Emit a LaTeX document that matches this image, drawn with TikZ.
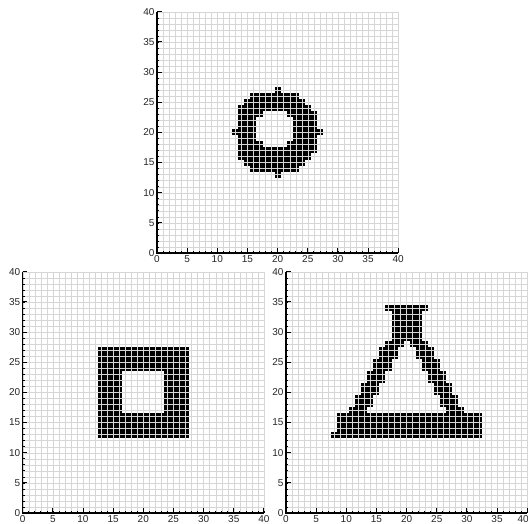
\documentclass[tikz,border=0pt]{standalone}
\usepackage{fontspec}
\setmainfont{Liberation Sans}
\begin{document}
\begin{tikzpicture}[x=1pt,y=1pt,
  gridline/.style={black!16,line width=0.3pt},
  axisline/.style={black,line width=1.4pt},
  ticklab/.style={font=\fontsize{10}{10}\selectfont,text=black!85,inner sep=0.5pt},
  cellfill/.style={fill=black}]
\useasboundingbox (0,0) rectangle (528,524);
\newcommand\cellat[2]{\fill[cellfill] ({#1-0.5},{#2-0.5}) rectangle ({#1+0.5},{#2+0.5});}
\newcommand\rowcells[3]{\foreach \cx in {#1,...,#2}{\cellat{\cx}{#3}}}
\newcommand\axesframe[1]{%
  \foreach \t in {0,...,40}{
    \draw[black,line width=0.6pt] (\t,0) -- (\t,0.35);
    \draw[black,line width=0.6pt] (0,\t) -- (0.35,\t);}
  \foreach \t in {0,5,...,35}{
    \node[ticklab,anchor=north] at (\t,-0.3) {\t};}
  \node[ticklab,anchor=north,xshift=#1] at (40,-0.3) {40};
  \foreach \t in {0,5,...,40}{
    \draw[black,line width=1pt] (\t,0) -- (\t,0.75);
    \draw[black,line width=1pt] (0,\t) -- (0.75,\t);
    \node[ticklab,anchor=east] at (-0.3,\t) {\t};}
  \draw[axisline] (0,40) -- (0,0) -- (40,0);}
% ---------- top plot: ring ----------
\begin{scope}[shift={(157,271)},x=6.03pt,y=6.03pt]
  \cellat{20}{27}\cellat{20}{13}\cellat{13}{20}\cellat{27}{20}
  \rowcells{16}{23}{26}
  \rowcells{15}{24}{25}
  \rowcells{14}{25}{24}
  \rowcells{14}{17}{23}\rowcells{22}{26}{23}
  \foreach \yy in {19,...,22}{\rowcells{14}{16}{\yy}\rowcells{23}{26}{\yy}}
  \rowcells{14}{17}{18}\rowcells{22}{26}{18}
  \rowcells{14}{26}{17}
  \rowcells{14}{25}{16}
  \rowcells{15}{24}{15}
  \rowcells{16}{23}{14}
  \draw[gridline,step=1] (0,0) grid (40,40);
  \axesframe{0pt}
\end{scope}
% ---------- bottom left: square frame ----------
\begin{scope}[shift={(22.7,11)},x=6.03pt,y=6.03pt]
  \foreach \yy in {13,...,16}{\rowcells{13}{27}{\yy}}
  \foreach \yy in {24,...,27}{\rowcells{13}{27}{\yy}}
  \foreach \yy in {17,...,23}{\rowcells{13}{16}{\yy}\rowcells{24}{27}{\yy}}
  \draw[gridline,step=1] (0,0) grid (40,40);
  \axesframe{0pt}
\end{scope}
% ---------- bottom right: triangle ----------
\begin{scope}[shift={(286,11)},x=6.03pt,y=6.03pt]
  \rowcells{8}{32}{13}
  \foreach \yy in {14,15,16}{\rowcells{9}{32}{\yy}}
  \foreach \yy/\ll in {17/11,18/12,19/12,20/13,21/13,22/14,23/14,24/15,25/15,26/16,27/16,28/17}{
    \pgfmathtruncatemacro\la{\ll+2}
    \pgfmathtruncatemacro\ra{40-\ll-2}
    \pgfmathtruncatemacro\rb{40-\ll}
    \rowcells{\ll}{\la}{\yy}\rowcells{\ra}{\rb}{\yy}}
  \foreach \yy in {29,...,33}{\rowcells{18}{22}{\yy}}
  \rowcells{17}{23}{34}
  \draw[gridline,step=1] (0,0) grid (40,40);
  \axesframe{-4pt}
\end{scope}
\end{tikzpicture}
\end{document}
